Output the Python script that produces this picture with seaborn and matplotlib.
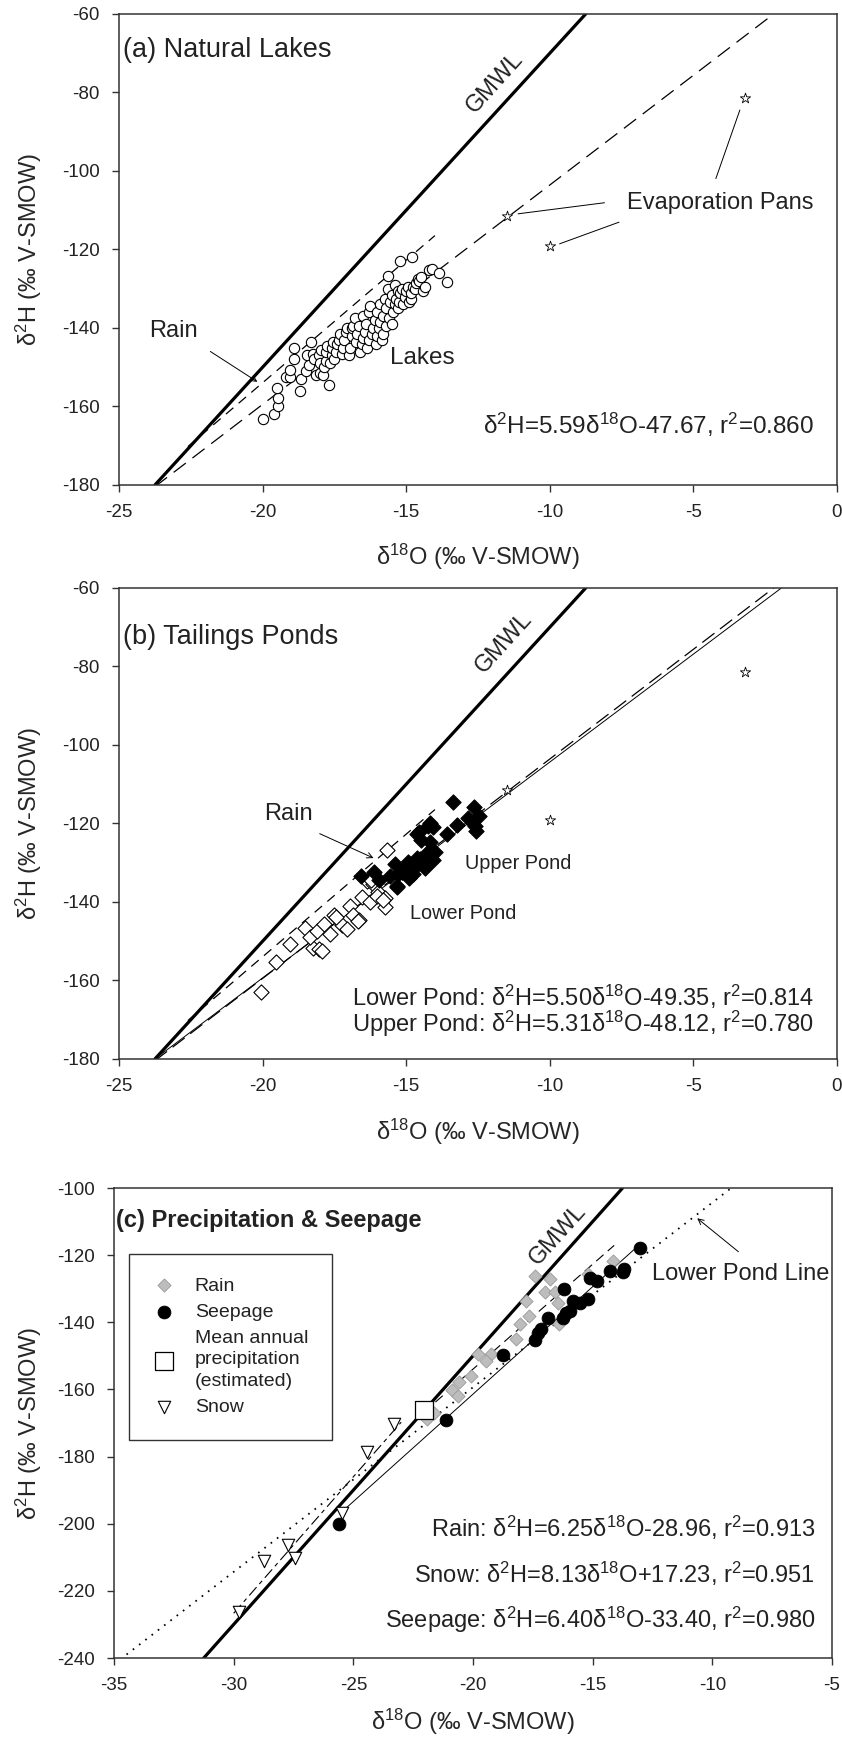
import numpy as np
import pandas as pd
import matplotlib
matplotlib.use("Agg")
import matplotlib.pyplot as plt
import seaborn as sns

# ---- data ---------------------------------------------------------------
# global meteoric water line and regression lines (slope, intercept)
gmwl = (8.0, 10.0)
lake_fit = (5.59, -47.67)
lower_fit = (5.50, -49.35)
upper_fit = (5.31, -48.12)
rain_fit = (6.25, -28.96)
snow_fit = (8.13, 17.23)
seep_fit = (6.40, -33.40)

# evaporation pans
pan_o18 = [-11.5, -10.0, -3.2]
pan_h2 = [-111.5, -119.0, -81.5]

# (a) natural lakes
lake_o18 = [-20.0, -19.6, -19.45, -19.45, -19.5, -19.2, -19.05, -19.05, -18.9, -18.9,
            -18.7, -18.65, -18.5, -18.45, -18.4, -18.3, -18.25, -18.2, -18.15, -18.05,
            -18.0, -18.0, -17.95, -17.9, -17.85, -17.8, -17.8, -17.75, -17.7, -17.65,
            -17.6, -17.6, -17.55, -17.5, -17.45, -17.4, -17.35, -17.3, -17.25, -17.2,
            -17.15, -17.1, -17.05, -17.0, -16.95, -16.9, -16.9, -16.85, -16.8, -16.75,
            -16.7, -16.65, -16.6, -16.55, -16.5, -16.5, -16.45, -16.4, -16.35, -16.3,
            -16.3, -16.25, -16.2, -16.15, -16.1, -16.05, -16.0, -16.0, -15.95, -15.9,
            -15.9, -15.85, -15.8, -15.8, -15.75, -15.7, -15.7, -15.65, -15.62, -15.6,
            -15.55, -15.5, -15.5, -15.45, -15.4, -15.4, -15.35, -15.3, -15.3, -15.25,
            -15.21, -15.2, -15.15, -15.1, -15.05, -15.0, -14.95, -14.9, -14.85, -14.85,
            -14.8, -14.75, -14.7, -14.65, -14.6, -14.55, -14.5, -14.4, -14.35, -14.22,
            -14.1, -13.85, -13.57]
lake_h2 = [-163.3, -162.0, -160.0, -157.8, -155.3, -152.5, -152.6, -150.8, -148.0, -145.0,
           -156.1, -153.0, -151.0, -147.0, -149.5, -143.5, -146.5, -148.0, -152.0, -147.0,
           -151.5, -149.0, -145.5, -152.0, -150.0, -148.5, -146.0, -144.5, -154.5, -149.0,
           -147.0, -145.0, -143.5, -148.0, -146.0, -144.0, -143.0, -141.5, -146.5, -145.0,
           -143.0, -141.0, -140.0, -147.0, -145.0, -142.0, -140.0, -139.5, -137.5, -143.5,
           -141.5, -139.5, -146.0, -144.0, -142.5, -137.0, -141.0, -139.0, -145.0, -143.0,
           -136.0, -134.5, -141.5, -140.0, -138.0, -144.0, -142.0, -136.0, -140.0, -138.5,
           -134.0, -143.0, -141.5, -137.0, -132.5, -139.5, -135.0, -130.0, -126.7, -137.5,
           -133.5, -139.0, -131.5, -136.0, -134.0, -129.0, -132.5, -130.5, -135.0, -133.5,
           -122.9, -131.0, -130.0, -134.0, -132.0, -130.5, -129.5, -133.5, -132.5, -131.0,
           -121.9, -129.5, -130.0, -128.5, -127.5, -128.0, -127.0, -130.5, -129.5, -125.1,
           -125.0, -125.9, -128.4]

# (b) tailings ponds
lower_o18 = [-20.05, -19.53, -19.04, -18.52, -18.23, -18.02, -18.35, -18.1, -17.85, -17.65,
             -17.53, -17.24, -17.07, -16.96, -16.84, -16.63, -16.55, -16.26, -16.38, -16.15,
             -15.97, -15.74, -15.74, -15.66, -17.94, -17.43, -16.69, -16.03, -15.81, -16.22]
lower_h2 = [-163.0, -155.2, -150.7, -146.7, -151.8, -152.0, -148.8, -147.3, -145.6, -148.1,
            -143.4, -145.8, -146.8, -141.0, -143.4, -144.7, -138.7, -140.0, -134.6, -135.3,
            -137.5, -139.0, -141.3, -126.7, -152.5, -143.9, -144.9, -138.4, -139.4, -134.4]
upper_o18 = [-13.38, -12.63, -12.48, -12.57, -12.6, -13.23, -12.86, -13.57, -14.16, -14.07,
             -14.23, -14.57, -14.63, -14.5, -14.16, -14.01, -14.26, -14.07, -14.23, -14.63,
             -14.52, -14.72, -14.35, -14.91, -14.93, -14.75, -15.13, -15.38, -15.28, -15.32,
             -15.56, -15.94, -16.12, -16.59, -14.91, -15.15, -15.33]
upper_h2 = [-114.4, -115.9, -118.2, -121.8, -120.6, -120.3, -118.7, -122.8, -119.8, -120.8,
            -120.6, -122.2, -122.8, -124.3, -124.8, -127.3, -128.3, -129.3, -127.3, -128.8,
            -129.0, -131.3, -131.3, -130.3, -129.9, -132.9, -132.3, -130.3, -132.8, -136.2,
            -133.4, -134.4, -132.4, -133.4, -133.9, -132.4, -135.8]

# (c) precipitation & seepage
rain_o18 = [-17.39, -16.78, -17.0, -16.56, -16.45, -17.79, -17.68, -18.02, -16.4, -18.2,
            -19.81, -19.25, -19.47, -20.08, -20.6, -20.87, -20.64, -21.65, -21.94, -15.21,
            -14.16]
rain_h2 = [-126.3, -127.0, -131.1, -131.1, -134.4, -133.8, -138.0, -140.5, -140.5, -144.9,
           -149.5, -149.3, -151.5, -155.9, -157.8, -160.3, -162.0, -166.9, -168.8, -125.6,
           -121.7]
seep_o18 = [-13.01, -14.27, -13.75, -13.67, -15.1, -14.83, -16.18, -15.84, -15.21, -15.55,
            -15.95, -16.11, -16.22, -16.85, -17.16, -17.28, -17.39, -18.76, -21.11, -25.58]
seep_h2 = [-118.0, -124.8, -125.0, -124.1, -126.7, -127.8, -130.2, -133.6, -133.0, -134.4,
           -136.6, -137.2, -138.8, -138.8, -142.1, -143.2, -145.4, -149.8, -169.1, -200.0]
snow_o18 = [-23.29, -24.41, -25.49, -27.71, -27.44, -28.74, -29.79]
snow_h2 = [-170.4, -178.5, -196.7, -206.4, -210.1, -211.0, -226.2]
map_o18 = [-22.05]
map_h2 = [-166.1]

XLAB = r"δ$^{18}$O (‰ V-SMOW)"
YLAB = r"δ$^{2}$H (‰ V-SMOW)"

# ---- style --------------------------------------------------------------
sns.set_style("ticks")
plt.rcParams["font.family"] = ["Liberation Sans", "DejaVu Sans"]
plt.rcParams["mathtext.fontset"] = "custom"
plt.rcParams["mathtext.rm"] = "Liberation Sans"
plt.rcParams["mathtext.it"] = "Liberation Sans:italic"
plt.rcParams["mathtext.bf"] = "Liberation Sans:bold"
plt.rcParams["axes.unicode_minus"] = False
plt.rcParams["lines.scale_dashes"] = False
plt.rcParams["text.color"] = "#222222"
plt.rcParams["axes.edgecolor"] = "#333333"
plt.rcParams["xtick.color"] = "#333333"
plt.rcParams["ytick.color"] = "#333333"
plt.rcParams["xtick.labelcolor"] = "#222222"
plt.rcParams["ytick.labelcolor"] = "#222222"

fig = plt.figure(figsize=(8.42, 17.41), dpi=100)
ax_a = fig.add_axes([0.14133, 0.72143, 0.85273, 0.27054])
ax_b = fig.add_axes([0.14133, 0.39173, 0.85273, 0.27054])
ax_c = fig.add_axes([0.13539, 0.04767, 0.85273, 0.26996])

EQ = 17


def line(ax, fit, x0, x1, **kw):
    xs = np.array([x0, x1])
    d = pd.DataFrame({"x": xs, "y": fit[0] * xs + fit[1]})
    sns.lineplot(data=d, x="x", y="y", ax=ax, color="black", estimator=None,
                 sort=False, **kw)


def frame(ax, xlim, ylim, xlab_y, ylab_x):
    ax.set_xlim(*xlim)
    ax.set_ylim(*ylim)
    ax.set_xticks(np.arange(xlim[0], xlim[1] + 1, 5))
    ax.set_yticks(np.arange(ylim[0], ylim[1] + 1, 20))
    for s in ax.spines.values():
        s.set_visible(True)
        s.set_linewidth(1.1)
    ax.tick_params(direction="out", length=5, width=1.0, labelsize=13.5, pad=9)
    ax.set_xlabel(XLAB, fontsize=17)
    ax.set_ylabel(YLAB, fontsize=17)
    ax.xaxis.set_label_coords(0.5, xlab_y)
    ax.yaxis.set_label_coords(ylab_x, 0.5)


def stars(ax):
    sns.scatterplot(x=pan_o18, y=pan_h2, ax=ax, marker="*", s=60, color="white",
                    edgecolor="black", linewidth=0.6, zorder=4)


# ---- (a) natural lakes ---------------------------------------------------
ax = ax_a
line(ax, gmwl, -23.75, -8.75, lw=2.3)
line(ax, lake_fit, -23.75, -2.2, lw=0.9, dashes=(11, 6))
line(ax, rain_fit, -22.6, -14.0, lw=0.9, dashes=(7, 5))
sns.scatterplot(x=lake_o18, y=lake_h2, ax=ax, marker="o", s=55, color="white",
                edgecolor="black", linewidth=0.8, zorder=3)
stars(ax)
frame(ax, (-25, 0), (-180, -60), -0.12, -0.104)
ax.text(-24.85, -69.3, "(a) Natural Lakes", fontsize=19.5, va="center", ha="left")
ax.text(-11.9, -77.5, "GMWL", fontsize=17, rotation=48, ha="center", va="center")
ax.text(-7.3, -108.2, "Evaporation Pans", fontsize=17, va="center", ha="left")
ax.annotate("", xy=(-11.2, -111.0), xytext=(-8.0, -108.0),
            arrowprops=dict(arrowstyle="-", lw=0.7, color="black"))
ax.annotate("", xy=(-9.75, -118.8), xytext=(-7.5, -112.8),
            arrowprops=dict(arrowstyle="-", lw=0.7, color="black"))
ax.annotate("", xy=(-3.35, -83.8), xytext=(-4.25, -102.6),
            arrowprops=dict(arrowstyle="-", lw=0.7, color="black"))
ax.text(-23.95, -140.8, "Rain", fontsize=17, va="center", ha="left")
ax.annotate("", xy=(-20.1, -154.1), xytext=(-21.9, -145.6),
            arrowprops=dict(arrowstyle="->", lw=0.7, color="black"))
ax.text(-15.55, -147.6, "Lakes", fontsize=17.5, va="center", ha="left")
ax.text(-0.8, -164.7, r"δ$^{2}$H=5.59δ$^{18}$O-47.67, r$^{2}$=0.860", fontsize=17.5,
        ha="right", va="center")

# ---- (b) tailings ponds --------------------------------------------------
ax = ax_b
line(ax, gmwl, -23.75, -8.75, lw=2.3)
line(ax, lake_fit, -23.75, -2.2, lw=0.9, dashes=(11, 5))
line(ax, lower_fit, -23.75, -1.94, lw=0.7)
line(ax, rain_fit, -22.6, -14.0, lw=0.9, dashes=(7, 5))
sns.scatterplot(x=lower_o18, y=lower_h2, ax=ax, marker="D", s=60, color="white",
                edgecolor="black", linewidth=0.8, zorder=3)
sns.scatterplot(x=upper_o18, y=upper_h2, ax=ax, marker="D", s=60, color="black",
                edgecolor="black", linewidth=0.8, zorder=3)
stars(ax)
frame(ax, (-25, 0), (-180, -60), -0.122, -0.104)
ax.text(-24.85, -72.4, "(b) Tailings Ponds", fontsize=19.5, va="center", ha="left")
ax.text(-11.6, -74.0, "GMWL", fontsize=17, rotation=48, ha="center", va="center")
ax.text(-19.1, -117.7, "Rain", fontsize=17, va="center", ha="center")
ax.annotate("", xy=(-16.05, -129.1), xytext=(-18.1, -122.3),
            arrowprops=dict(arrowstyle="->", lw=0.7, color="black"))
ax.text(-11.1, -130.3, "Upper Pond", fontsize=14.3, va="center", ha="center")
ax.text(-13.0, -142.9, "Lower Pond", fontsize=14.3, va="center", ha="center")
ax.text(-0.8, -164.1, r"Lower Pond: δ$^{2}$H=5.50δ$^{18}$O-49.35, r$^{2}$=0.814",
        fontsize=EQ, ha="right", va="center")
ax.text(-0.8, -171.1, r"Upper Pond: δ$^{2}$H=5.31δ$^{18}$O-48.12, r$^{2}$=0.780",
        fontsize=EQ, ha="right", va="center")

# ---- (c) precipitation & seepage -----------------------------------------
ax = ax_c
line(ax, gmwl, -31.25, -13.75, lw=2.3)
line(ax, lower_fit, -35.0, -9.2, lw=1.3, dashes=(1.2, 4.5))
line(ax, snow_fit, -30.0, -23.0, lw=0.8, dashes=(8, 3, 3, 3))
line(ax, rain_fit, -22.05, -14.1, lw=0.8, dashes=(7, 4))
line(ax, seep_fit, -25.5, -13.0, lw=0.7)
sns.scatterplot(x=rain_o18, y=rain_h2, ax=ax, marker="D", s=45, color="#bdbdbd",
                edgecolor="#9a9a9a", linewidth=0.6, zorder=3, label="Rain")
sns.scatterplot(x=seep_o18, y=seep_h2, ax=ax, marker="o", s=85, color="black",
                edgecolor="black", linewidth=0.6, zorder=3, label="Seepage")
sns.scatterplot(x=map_o18, y=map_h2, ax=ax, marker="s", s=150, color="white",
                edgecolor="black", linewidth=0.9, zorder=5,
                label="Mean annual\nprecipitation\n(estimated)")
sns.scatterplot(x=snow_o18, y=snow_h2, ax=ax, marker="v", s=80, color="white",
                edgecolor="black", linewidth=0.8, zorder=4, label="Snow")
frame(ax, (-35, -5), (-240, -100), -0.104, -0.0975)
leg = ax.legend(loc="upper left", bbox_to_anchor=(0.007, 0.881), fontsize=14,
                frameon=True, fancybox=False, edgecolor="black", borderpad=1.2,
                handletextpad=1.0, labelspacing=0.45, handlelength=1.2)
leg.get_frame().set_linewidth(1.0)
for t in leg.get_texts():
    t.set_linespacing(1.35)
ax.text(-34.9, -109.6, "(c) Precipitation & Seepage", fontsize=17,
        fontweight="bold", va="center", ha="left")
ax.text(-16.45, -114.0, "GMWL", fontsize=17, rotation=48, ha="center", va="center")
ax.text(-8.8, -125.6, "Lower Pond Line", fontsize=17, ha="center", va="center")
ax.annotate("", xy=(-10.72, -108.5), xytext=(-8.82, -119.5),
            arrowprops=dict(arrowstyle="->", lw=0.7, color="black"))
ax.text(-5.7, -201.1, r"Rain: δ$^{2}$H=6.25δ$^{18}$O-28.96, r$^{2}$=0.913",
        fontsize=EQ, ha="right", va="center")
ax.text(-5.7, -214.9, r"Snow: δ$^{2}$H=8.13δ$^{18}$O+17.23, r$^{2}$=0.951",
        fontsize=EQ, ha="right", va="center")
ax.text(-5.7, -228.6, r"Seepage: δ$^{2}$H=6.40δ$^{18}$O-33.40, r$^{2}$=0.980",
        fontsize=EQ, ha="right", va="center")

fig.savefig("out.png", dpi=100, facecolor="white")
